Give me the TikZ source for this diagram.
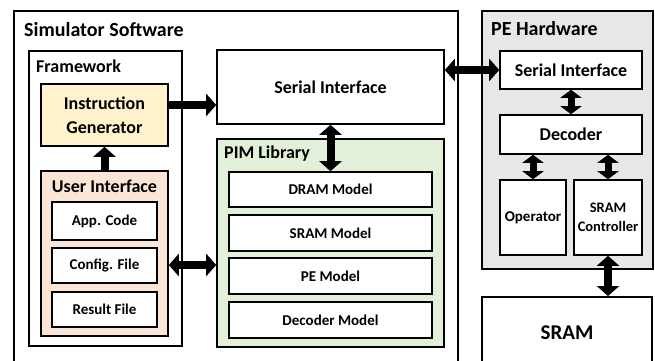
\documentclass[tikz,border=0pt]{standalone}
\usepackage{fontspec}
\setmainfont{Carlito}
\usetikzlibrary{arrows.meta}
\definecolor{igfill}{HTML}{FFF2CC}
\definecolor{uifill}{HTML}{FBE5D6}
\definecolor{pimfill}{HTML}{E2F0D9}
\definecolor{pefill}{HTML}{E7E7E7}
\newcommand{\fs}[2]{\fontsize{#1}{#2}\selectfont\bfseries}
\tikzset{
  box/.style={draw, line width=1.6pt, inner sep=0pt, align=center},
  outer/.style={draw, line width=2pt},
  lbl/.style={anchor=west, inner sep=0pt},
  fat/.style={line width=8pt, -{Triangle[length=10pt,width=22pt]}},
  fatboth/.style={line width=8pt, {Triangle[length=10pt,width=22pt]}-{Triangle[length=10pt,width=22pt]}},
  slimboth/.style={line width=7pt, {Triangle[length=8pt,width=21pt]}-{Triangle[length=8pt,width=21pt]}},
}
% name, x1, y1, x2, y2, style, text
\newcommand{\bx}[7]{\node[box,#6,minimum width={(#4-#2)*1pt},minimum height={(#5-#3)*1pt}] (#1) at ({(#2+#4)/2},{(#3+#5)/2}) {#7};}
\begin{document}
\begin{tikzpicture}[x=1pt,y=-1pt]
\useasboundingbox (0,0) rectangle (655,360);
\clip (0,0) rectangle (655,360);
% Simulator software
\bx{sim}{14}{11}{458}{380}{outer}{}
\node[lbl,font=\fs{20}{24}] (simlbl) at (24,30) {Simulator Software};
% Framework
\bx{fw}{29}{51}{182}{346}{}{}
\node[lbl,font=\fs{18}{21}] (fwlbl) at (36,66) {Framework};
\bx{ig}{41}{84}{168}{146}{fill=igfill,font=\fs{18}{24}}{Instruction\\Generator}
\bx{ui}{41}{171}{168}{336}{fill=uifill}{}
\node[inner sep=0pt,font=\fs{18}{21}] (uilbl) at (104.5,186) {User Interface};
\bx{app}{52}{202}{157}{240}{fill=white,font=\fs{15}{18}}{App. Code}
\bx{cfg}{52}{248}{157}{283}{fill=white,font=\fs{15}{18}}{Config. File}
\bx{res}{52}{292}{157}{327}{fill=white,font=\fs{15}{18}}{Result File}
% Serial interface (software)
\bx{ssi}{217}{50}{444}{124}{font=\fs{18}{21}}{Serial Interface}
% PIM Library
\bx{pim}{217}{139}{444}{347}{fill=pimfill}{}
\node[lbl,font=\fs{18}{21}] (pimlbl) at (224,154) {PIM Library};
\bx{dram}{229}{172}{432}{207}{fill=white,font=\fs{15}{18}}{DRAM Model}
\bx{srm}{229}{215}{432}{251}{fill=white,font=\fs{15}{18}}{SRAM Model}
\bx{pem}{229}{258}{432}{294}{fill=white,font=\fs{15}{18}}{PE Model}
\bx{decm}{229}{302}{432}{338}{fill=white,font=\fs{15}{18}}{Decoder Model}
% PE hardware
\bx{peh}{482}{11}{653}{269}{outer,fill=pefill}{}
\node[lbl,font=\fs{20}{24}] (pehlbl) at (491,29) {PE Hardware};
\bx{hsi}{500}{51}{642}{89}{fill=white,font=\fs{18}{21}}{Serial Interface}
\bx{hdec}{500}{115}{642}{154}{fill=white,font=\fs{18}{21}}{Decoder}
\bx{op}{500}{180}{566}{255}{fill=white,font=\fs{15}{18}}{Operator}
\bx{sc}{574}{180}{642}{255}{fill=white,font=\fs{14.5}{19}}{SRAM\\Controller}
\bx{sram}{482}{297}{652}{380}{outer}{}
\node[font=\fs{21}{25}] (sramlbl) at (567,333) {SRAM};
% connectors
\draw[fat] ([yshift=10pt]ig.east) -- ([yshift=10pt]ig.east -| ssi.west);
\draw[fat] (ui.north) -- (ig.south);
\draw[fatboth] ([yshift=-11.5pt]ui.east) -- ([yshift=-11.5pt]ui.east -| pim.west);
\draw[fatboth] (ssi.south) -- (dram.north);
\draw[fatboth] (hsi.west -| ssi.east) -- (hsi.west);
\draw[slimboth] (hsi.south) -- (hdec.north);
\draw[slimboth] (op.north |- hdec.south) -- (op.north);
\draw[slimboth] (sc.north |- hdec.south) -- (sc.north);
\draw[fatboth] (sc.south) -- (sc.south |- sram.north);
\end{tikzpicture}
\end{document}
